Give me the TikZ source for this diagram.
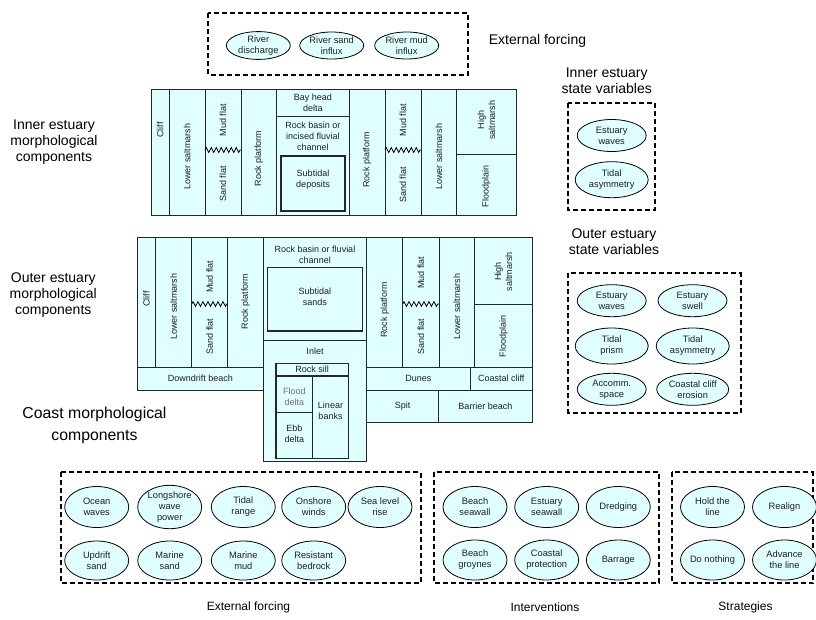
\documentclass[tikz,border=0pt]{standalone}
\usepackage{fontspec}
\setmainfont{Liberation Sans}
\usetikzlibrary{shapes.geometric,decorations.pathmorphing}
\definecolor{cellfill}{RGB}{224,255,255}
\definecolor{txt}{RGB}{30,30,30}
\tikzset{
  cell/.style={fill=cellfill,draw=black!85,line width=0.8pt},
  subcell/.style={fill=cellfill,draw=black!85,line width=1.3pt},
  zz/.style={draw=black,line width=0.8pt,decorate,decoration={zigzag,segment length=5pt,amplitude=2.4pt}},
  ctext/.style={font=\fontsize{9}{11}\selectfont,align=center,inner sep=0pt,text=txt},
  rtext/.style={ctext,rotate=90},
  ell/.style={ellipse,draw=black,line width=0.8pt,fill=cellfill,inner sep=0pt,
    font=\fontsize{9.3}{11}\selectfont,align=center,text=txt},
  ellA/.style={ell,minimum width=64pt,minimum height=27pt},
  ellB/.style={ell,minimum width=69pt,minimum height=32pt},
  ellC/.style={ell,minimum width=73pt,minimum height=36pt},
  ellD/.style={ell,minimum width=64pt,minimum height=41pt},
  dbox/.style={draw=black,line width=1.8pt,dash pattern=on 5pt off 3pt},
  biglbl/.style={font=\fontsize{14}{16}\selectfont,align=center,inner sep=0pt},
  lowlbl/.style={font=\fontsize{12}{14}\selectfont,align=center,inner sep=0pt},
}
\begin{document}
\begin{tikzpicture}[x=1pt,y=-1pt]
\useasboundingbox (0,0) rectangle (816,619);

% ---------- top external forcing ----------
\draw[dbox] (208.3,13.3) rectangle (468,75);
\node[ellA] (rd) at (258.3,45.5) {River\\discharge};
\node[ellA] (rs) at (331.7,45.5) {River sand\\influx};
\node[ellA] (rm) at (406.7,45.5) {River mud\\influx};
\node[biglbl] (lef) at (537.5,40.7) {External forcing};

% ---------- inner estuary block ----------
\draw[cell] (151,89) rectangle (169.3,215);
\draw[cell] (169.3,89) rectangle (205,215);
\draw[cell] (205,89) rectangle (241,215);
\draw[cell] (241,89) rectangle (276.7,215);
\draw[cell] (276.7,89) rectangle (349,116);
\draw[cell] (276.7,116) rectangle (349,215);
\draw[subcell] (281,156) rectangle (345,211);
\draw[cell] (349,89) rectangle (385,215);
\draw[cell] (385,89) rectangle (421,215);
\draw[cell] (421,89) rectangle (456.7,215);
\draw[cell] (456.7,89) rectangle (516,154);
\draw[cell] (456.7,154) rectangle (516,215);
\draw[zz] (205,150) -- (241,150);
\draw[zz] (385,150) -- (421,150);

\node[rtext] (ic1) at (160.2,130) {Cliff};
\node[rtext] (ic2) at (187.2,156.7) {Lower saltmarsh};
\node[rtext] (ic3) at (223,120) {Mud flat};
\node[rtext] (ic4) at (223,184) {Sand flat};
\node[rtext] (ic5) at (258.8,158.3) {Rock platform};
\node[ctext] (ic6) at (312.8,102.5) {Bay head\\delta};
\node[ctext] (ic7) at (312.8,136.5) {Rock basin or\\incised fluvial\\channel};
\node[ctext] (ic8) at (313,180) {Subtidal\\deposits};
\node[rtext] (ic9) at (367,160) {Rock platform};
\node[rtext] (ic10) at (403,120) {Mud flat};
\node[rtext] (ic11) at (403,185) {Sand flat};
\node[rtext] (ic12) at (438.8,156.7) {Lower saltmarsh};
\node[rtext] (ic13) at (486.3,120) {High\\saltmarsh};
\node[rtext] (ic14) at (486.3,186.7) {Floodplain};

% ---------- outer estuary block ----------
\draw[cell] (137.3,237.3) rectangle (155.7,367.3);
\draw[cell] (155.7,237.3) rectangle (191.7,367.3);
\draw[cell] (191.7,237.3) rectangle (227.7,367.3);
\draw[cell] (227.7,237.3) rectangle (263.3,367.3);
\draw[cell] (263.3,237.3) rectangle (366.7,340);
\draw[subcell] (267.3,267.7) rectangle (362.3,331);
\draw[cell] (366.7,237.3) rectangle (402.7,367.3);
\draw[cell] (402.7,237.3) rectangle (439.3,367.3);
\draw[cell] (439.3,237.3) rectangle (474.3,367.3);
\draw[cell] (474.3,237.3) rectangle (532.7,304);
\draw[cell] (474.3,304) rectangle (532.7,367.3);
\draw[cell] (137.3,367.3) rectangle (263.3,390);
\draw[cell] (263.3,340) rectangle (366.7,461.7);
\draw[subcell] (276,363.3) rectangle (348.3,376);
\draw[subcell] (276,376) rectangle (312.7,412.7);
\draw[subcell] (276,412.7) rectangle (312.7,458.3);
\draw[subcell] (312.7,376) rectangle (348.3,458.3);
\draw[cell] (366.7,367.3) rectangle (470,390);
\draw[cell] (470,367.3) rectangle (532.7,390);
\draw[cell] (366.7,390) rectangle (438.3,422);
\draw[cell] (438.3,390) rectangle (532.7,422);
\draw[zz] (191.7,304) -- (227.7,304);
\draw[zz] (402.7,304) -- (439.3,304);

\node[rtext] (oc1) at (146.5,299) {Cliff};
\node[rtext] (oc2) at (173.7,306.7) {Lower saltmarsh};
\node[rtext] (oc3) at (209.7,276.7) {Mud flat};
\node[rtext] (oc4) at (209.7,336.7) {Sand flat};
\node[rtext] (oc5) at (245.5,301.7) {Rock platform};
\node[ctext] (oc6) at (315,255) {Rock basin or fluvial\\channel};
\node[ctext] (oc7) at (314.8,297.2) {Subtidal\\sands};
\node[rtext] (oc8) at (384.7,310) {Rock platform};
\node[rtext] (oc9) at (421,272.7) {Mud flat};
\node[rtext] (oc10) at (421,336.7) {Sand flat};
\node[rtext] (oc11) at (456.8,306.7) {Lower saltmarsh};
\node[rtext] (oc12) at (503.5,271.7) {High\\saltmarsh};
\node[rtext] (oc13) at (503.5,336.7) {Floodplain};
\node[ctext] (oc14) at (200.3,378.7) {Downdrift beach};
\node[ctext] (oc15) at (315,351.7) {Inlet};
\node[ctext] (oc16) at (312.2,369.7) {Rock sill};
\node[ctext,text=black!55] (oc17) at (294.3,397.2) {Flood\\delta};
\node[ctext] (oc18) at (330.5,411) {Linear\\banks};
\node[ctext] (oc19) at (294.3,433.8) {Ebb\\delta};
\node[ctext] (oc20) at (418.3,378.7) {Dunes};
\node[ctext] (oc21) at (501.3,378.7) {Coastal cliff};
\node[ctext] (oc22) at (402.5,406) {Spit};
\node[ctext] (oc23) at (485.5,406) {Barrier beach};

% ---------- left labels ----------
\node[biglbl] (lin) at (54,142.3) {Inner estuary\\morphological\\components};
\node[biglbl] (lout) at (53.3,295) {Outer estuary\\morphological\\components};
\node[font=\fontsize{15.8}{22}\selectfont,align=center,inner sep=0pt] (lco) at (94.5,425) {Coast morphological\\components};

% ---------- inner state variables ----------
\node[biglbl] (lis) at (606.7,80.8) {Inner estuary\\state variables};
\draw[dbox] (568.3,102.7) rectangle (655,210);
\node[ellB] (iw) at (611.7,135.5) {Estuary\\waves};
\node[ellC] (ia) at (611.7,179.7) {Tidal\\asymmetry};

% ---------- outer state variables ----------
\node[biglbl] (los) at (614,242) {Outer estuary\\state variables};
\draw[dbox] (568.3,273.3) rectangle (740.7,412.7);
\node[ellB] (ow) at (611.7,300.7) {Estuary\\waves};
\node[ellB] (osw) at (692.5,300.7) {Estuary\\swell};
\node[ellC] (op) at (611.7,346) {Tidal\\prism};
\node[ellC] (oa) at (692.7,346) {Tidal\\asymmetry};
\node[ellB] (oac) at (611.7,389.3) {Accomm.\\space};
\node[ellB,minimum width=72pt] (occ) at (692.7,389.3) {Coastal cliff\\erosion};

% ---------- bottom external forcing ----------
\draw[dbox] (61,472.3) rectangle (420.7,583.3);
\node[ellD] (b1) at (96.7,507) {Ocean\\waves};
\node[ellD] (b2) at (169.7,507) {Longshore\\wave\\power};
\node[ellD] (b3) at (243.3,507) {Tidal\\range};
\node[ellD] (b4) at (313.7,507) {Onshore\\winds};
\node[ellD] (b5) at (380,507) {Sea level\\rise};
\node[ellD,minimum height=39pt] (b6) at (96.7,560.5) {Updrift\\sand};
\node[ellD,minimum height=39pt] (b7) at (169.7,560.5) {Marine\\sand};
\node[ellD,minimum height=39pt] (b8) at (243.3,560.5) {Marine\\mud};
\node[ellD,minimum height=39pt] (b9) at (313.7,560.5) {Resistant\\bedrock};
\node[lowlbl] (lbef) at (248.5,607) {External forcing};

% ---------- interventions ----------
\draw[dbox] (434.3,472.3) rectangle (659.3,583.3);
\node[ellD] (v1) at (475,507) {Beach\\seawall};
\node[ellD] (v2) at (546.7,507) {Estuary\\seawall};
\node[ellD] (v3) at (618.3,507) {Dredging};
\node[ellD,minimum height=40pt] (v4) at (475,560) {Beach\\groynes};
\node[ellD,minimum height=40pt] (v5) at (546.7,560) {Coastal\\protection};
\node[ellD,minimum height=40pt] (v6) at (618.3,560) {Barrage};
\node[lowlbl] (lint) at (545,607) {Interventions};

% ---------- strategies ----------
\draw[dbox] (671.7,472.3) rectangle (813,583.3);
\node[ellD] (s1) at (712.5,507) {Hold the\\line};
\node[ellD] (s2) at (784.5,507) {Realign};
\node[ellD,minimum height=40pt] (s3) at (712.5,560) {Do nothing};
\node[ellD,minimum height=40pt] (s4) at (784.5,560) {Advance\\the line};
\node[lowlbl] (lstr) at (745.5,607) {Strategies};
\end{tikzpicture}
\end{document}
